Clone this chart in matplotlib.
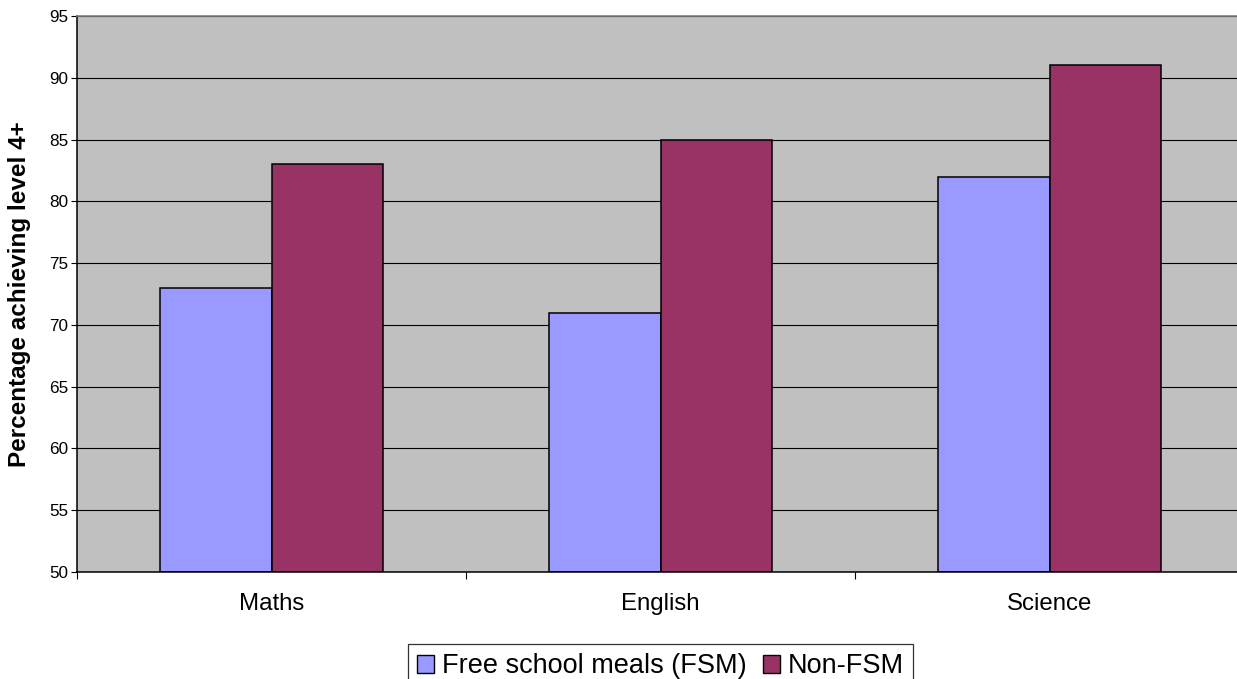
import matplotlib.pyplot as plt
import numpy as np

subjects = ['Maths', 'English', 'Science']
series = ['Free school meals (FSM)', 'Non-FSM']
fsm = [73, 71, 82]
non_fsm = [83, 85, 91]
colours = ['#9999FF', '#993366']

plt.rcParams['font.family'] = ['Liberation Sans', 'DejaVu Sans']

fig = plt.figure(figsize=(12.37, 6.79), dpi=100)
# axes run a little past the right edge of the figure
ax = fig.add_axes([77 / 1237, 107 / 679, 1167 / 1237, 556 / 679])
ax.set_facecolor('#C0C0C0')
ax.set_axisbelow(True)

x = np.arange(len(subjects))
w = 1 / 3.5
for i, (vals, name) in enumerate(zip([fsm, non_fsm], series)):
    ax.bar(x + (i - 0.5) * w, np.array(vals) - 50, width=w, bottom=50,
           color=colours[i], edgecolor='black', linewidth=1.1, label=name)

ax.set_xlim(-0.5, 2.5)
ax.set_ylim(50, 95)
ax.set_yticks(range(50, 96, 5))
ax.yaxis.grid(True, color='black', linewidth=0.8)
ax.tick_params(axis='y', direction='out', length=4.5, width=0.8, pad=2,
               labelsize=12.3, colors='black')

ax.set_xticks(x)
ax.set_xticklabels(subjects, fontsize=17.3)
ax.tick_params(axis='x', which='major', length=0, pad=15)
ax.set_xticks([-0.5, 0.5, 1.5, 2.5], minor=True)
ax.tick_params(axis='x', which='minor', direction='out', length=5, width=0.8)

for side in ['left', 'bottom']:
    ax.spines[side].set_color('black')
    ax.spines[side].set_linewidth(1.1)
ax.spines['top'].set_color('#808080')
ax.spines['top'].set_linewidth(1.2)
ax.spines['right'].set_visible(False)

ax.set_ylabel('Percentage achieving level 4+', fontsize=17.5, fontweight='bold')
ax.yaxis.set_label_coords(-0.0394, 0.5)

leg = ax.legend(loc='upper center', bbox_to_anchor=(0.5, -0.1295), ncol=2,
                fontsize=19.5, frameon=True, fancybox=False, shadow=False,
                handlelength=0.62, handleheight=0.62, handletextpad=0.3,
                columnspacing=0.6, borderpad=0.35, borderaxespad=0)
leg.get_frame().set_edgecolor('black')
leg.get_frame().set_linewidth(0.9)
for h in leg.legend_handles:
    h.set_linewidth(1.0)

fig.savefig('out.png', dpi=100)
